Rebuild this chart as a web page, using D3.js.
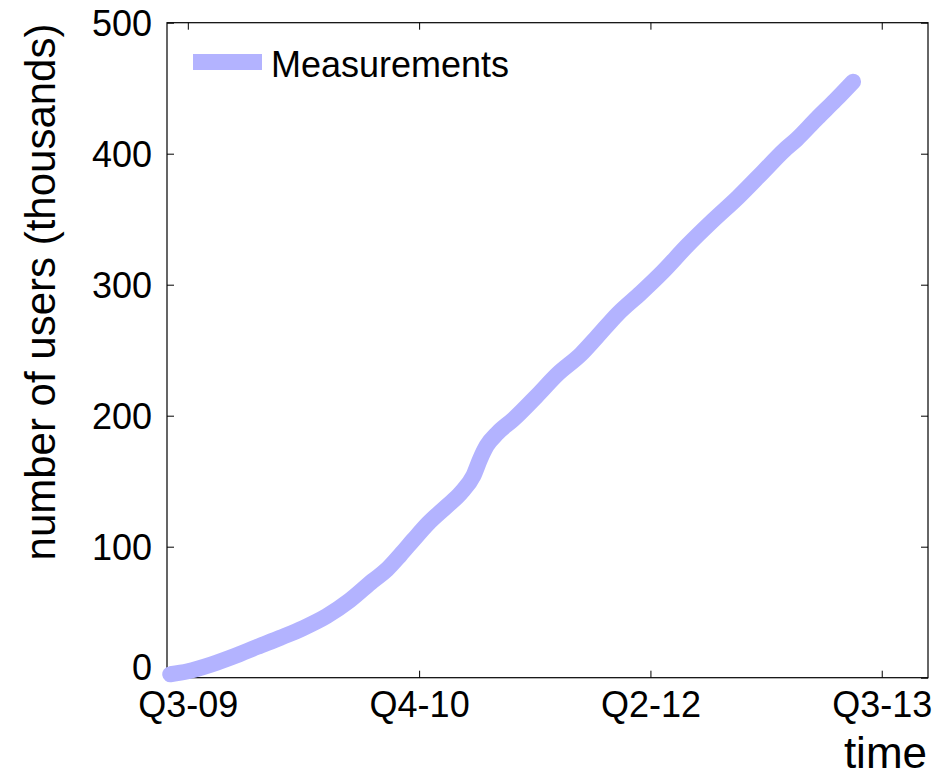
<!DOCTYPE html>
<html>
<head>
<meta charset="utf-8">
<script src="https://cdn.jsdelivr.net/npm/d3@7/dist/d3.min.js"></script>
<style>
  html, body { margin: 0; padding: 0; background: #fff; }
  svg { display: block; }
  text { font-family: "Liberation Sans", Arial, Helvetica, sans-serif; fill: #000; }
</style>
</head>
<body>
<svg id="chart" width="934" height="776"></svg>
<script>
// Days since start of Q3-09
const days = [-38, 0, 50, 100, 150, 200, 250, 300, 350, 400, 430, 460, 487, 520, 560, 590, 617, 632, 646, 670, 703, 754, 800, 850, 884, 930, 980, 1027, 1080, 1135, 1190, 1243, 1290, 1316, 1360, 1400, 1438];
// Number of users (thousands)
const users = [2.6, 4.9, 10, 16.3, 23.5, 30.5, 38, 47, 59, 74, 82.5, 94, 105, 118, 131, 141, 154, 167, 177, 187, 197, 215, 232, 247, 260, 278, 294, 310, 330, 349, 367, 386, 403, 411, 427, 441, 455];

const xTickValues = [0, 500, 1000, 1500];
const xTickLabels = ["Q3-09", "Q4-10", "Q2-12", "Q3-13"];
const yTickValues = [0, 100, 200, 300, 400, 500];
const seriesName = "Measurements";
const xLabel = "time";
const yLabel = "number of users (thousands)";

const svg = d3.select("#chart");
const L = 167, R = 928, T = 22.7, B = 677.7;
const x = d3.scaleLinear().domain([-45, 1600]).range([L, R]);
const y = d3.scaleLinear().domain([0, 500]).range([B, T]);
const lineColor = "#b3b3ff";
const tickLen = 7;

const data = days.map((d, i) => ({ d, v: users[i] }));

// Axes box
svg.append("rect").attr("x", L).attr("y", T).attr("width", R - L).attr("height", B - T)
  .attr("fill", "none").attr("stroke", "#000").attr("stroke-width", 1.2);

// Bottom axis
const xAxis = d3.axisBottom(x).tickValues(xTickValues).tickSize(-tickLen).tickPadding(14)
  .tickFormat((d, i) => xTickLabels[i]);
const gx = svg.append("g").attr("transform", `translate(0,${B})`).call(xAxis);
gx.select(".domain").remove();
gx.selectAll("text").style("font-size", "36px").attr("dy", "0.71em")
  .style("font-family", '"Liberation Sans", Arial, sans-serif');
gx.selectAll("line").attr("stroke", "#000");

// Top ticks
const gxt = svg.append("g").attr("transform", `translate(0,${T})`)
  .call(d3.axisTop(x).tickValues(xTickValues).tickSize(-tickLen).tickFormat(""));
gxt.select(".domain").remove();

// Left axis
const yAxis = d3.axisLeft(y).tickValues(yTickValues).tickSize(-tickLen).tickPadding(15);
const gy = svg.append("g").attr("transform", `translate(${L},0)`).call(yAxis);
gy.select(".domain").remove();
gy.selectAll("text").style("font-size", "36px")
  .style("font-family", '"Liberation Sans", Arial, sans-serif')
  .attr("dy", d => d === 0 ? "0.05em" : "0.35em");
gy.selectAll("line").attr("stroke", "#000");

// Right ticks
const gyr = svg.append("g").attr("transform", `translate(${R},0)`)
  .call(d3.axisRight(y).tickValues(yTickValues).tickSize(-tickLen).tickFormat(""));
gyr.select(".domain").remove();

// Data line
const line = d3.line().x(p => x(p.d)).y(p => y(p.v)).curve(d3.curveMonotoneX);
svg.append("path").datum(data).attr("d", line)
  .attr("fill", "none").attr("stroke", lineColor).attr("stroke-width", 16)
  .attr("stroke-linecap", "round").attr("stroke-linejoin", "round");

// Legend
svg.append("line").attr("x1", 193).attr("x2", 262).attr("y1", 62).attr("y2", 62)
  .attr("stroke", lineColor).attr("stroke-width", 16);
svg.append("text").attr("x", 271).attr("y", 77).style("font-size", "36px").text(seriesName);

// Axis labels
svg.append("text").attr("x", 927).attr("y", 768).attr("text-anchor", "end")
  .style("font-size", "44px").text(xLabel);
svg.append("text").attr("transform", "translate(55,292) rotate(-90)")
  .attr("text-anchor", "middle").style("font-size", "42px").text(yLabel);
</script>
</body>
</html>
